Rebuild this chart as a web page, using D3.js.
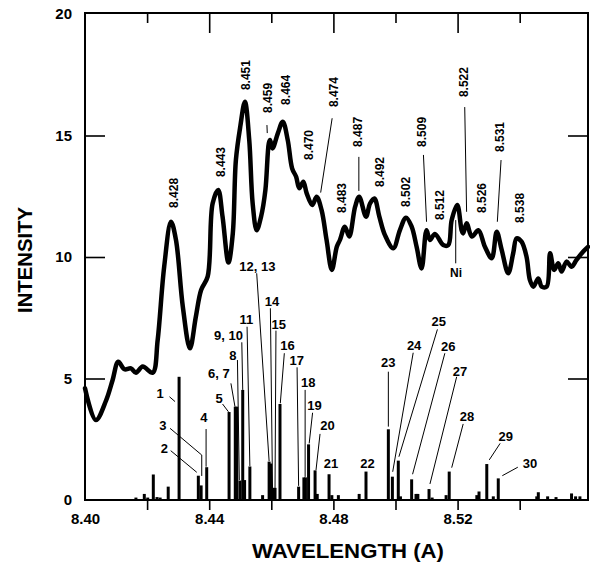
<!DOCTYPE html>
<html>
<head>
<meta charset="utf-8">
<script src="https://cdn.jsdelivr.net/npm/d3@7"></script>
<style>
  body { margin: 0; background: #fff; }
  svg { display: block; font-family: "Liberation Sans", Arial, sans-serif; font-weight: bold; }
</style>
</head>
<body>
<div id="chart"></div>
<script>
// measured scan: wavelength (A) and intensity
const scanWl = [8.4000, 8.4035, 8.4068, 8.4089, 8.4107, 8.4127, 8.4148, 8.4164, 8.4186, 8.4218,
  8.4234, 8.4255, 8.4277, 8.4293, 8.4315, 8.4338, 8.4357, 8.4374, 8.4395, 8.4411,
  8.4429, 8.4443, 8.4462, 8.4476, 8.4486, 8.4500, 8.4515, 8.4529, 8.4540, 8.4553,
  8.4567, 8.4581, 8.4592, 8.4596, 8.4604, 8.4621, 8.4637, 8.4653, 8.4667, 8.4680,
  8.4690, 8.4703, 8.4714, 8.4732, 8.4746, 8.4762, 8.4778, 8.4795, 8.4811, 8.4821,
  8.4837, 8.4851, 8.4870, 8.4883, 8.4905, 8.4918, 8.4932, 8.4948, 8.4966, 8.4993,
  8.5014, 8.5034, 8.5052, 8.5068, 8.5084, 8.5100, 8.5111, 8.5127, 8.5154, 8.5170,
  8.5181, 8.5199, 8.5213, 8.5218, 8.5229, 8.5246, 8.5267, 8.5288, 8.5310, 8.5326,
  8.5342, 8.5363, 8.5379, 8.5390, 8.5406, 8.5422, 8.5433, 8.5444, 8.5460, 8.5471,
  8.5487, 8.5498, 8.5511, 8.5524, 8.5535, 8.5551, 8.5567, 8.5583, 8.5604, 8.5620];
const scanI = [4.60, 3.29, 4.10, 4.94, 5.69, 5.38, 5.42, 5.24, 5.49, 5.24,
  6.58, 9.60, 11.45, 10.70, 7.96, 6.24, 7.54, 8.64, 9.19, 12.20,
  12.76, 11.66, 9.77, 10.97, 13.99, 15.36, 16.39, 14.81, 12.20, 11.10,
  11.66, 12.76, 14.68, 14.81, 14.47, 15.09, 15.57, 14.81, 13.65, 13.30,
  12.83, 13.10, 12.62, 12.14, 12.48, 11.93, 10.70, 9.47, 10.42, 10.70,
  11.25, 10.84, 12.07, 12.48, 11.66, 12.20, 12.41, 11.66, 10.90, 10.36,
  11.10, 11.62, 11.25, 10.42, 9.53, 11.10, 10.70, 10.95, 10.49, 10.49,
  11.52, 12.14, 11.10, 10.97, 11.39, 10.84, 11.10, 10.42, 9.95, 11.04,
  10.29, 9.33, 10.15, 10.77, 10.63, 10.01, 9.05, 8.78, 9.12, 8.78,
  8.78, 10.15, 9.47, 9.74, 9.40, 9.81, 9.60, 9.88, 10.22, 10.42];

// calculated lines: wavelength (A) and strength
const lineWl = [8.4164, 8.4191, 8.4202, 8.4220, 8.4232, 8.4242, 8.4268, 8.4303, 8.4365, 8.4374,
  8.4392, 8.4464, 8.4484, 8.4489, 8.4499, 8.4508, 8.4514, 8.4531, 8.4572, 8.4593,
  8.4598, 8.4605, 8.4612, 8.4628, 8.4688, 8.4705, 8.4710, 8.4720, 8.4741, 8.4748,
  8.4786, 8.4795, 8.4816, 8.4883, 8.4905, 8.4977, 8.4990, 8.5009, 8.5016, 8.5052,
  8.5066, 8.5072, 8.5108, 8.5118, 8.5163, 8.5173, 8.5262, 8.5269, 8.5294, 8.5315,
  8.5331, 8.5455, 8.5460, 8.5490, 8.5517, 8.5567, 8.5580, 8.5594];
const lineI = [0.10, 0.25, 0.10, 1.05, 0.12, 0.10, 0.55, 5.07, 1.00, 0.60,
  1.35, 3.62, 3.84, 3.84, 0.80, 4.53, 0.82, 1.38, 0.20, 1.58,
  1.50, 0.50, 0.50, 3.95, 0.55, 0.93, 0.93, 2.29, 1.22, 0.25,
  1.06, 0.20, 0.20, 0.25, 1.17, 2.91, 0.96, 1.62, 0.15, 0.85,
  0.25, 0.25, 0.45, 0.10, 0.20, 1.17, 0.20, 0.35, 1.48, 0.15,
  0.89, 0.15, 0.32, 0.15, 0.12, 0.27, 0.15, 0.15];

// peak wavelength labels (vertical text, foot at x,y) with optional leader
const peakLabels = [
  {t: "8.428", x: 8.4285, y: 12.02},
  {t: "8.443", x: 8.4438, y: 13.29},
  {t: "8.451", x: 8.4517, y: 16.87},
  {t: "8.459", x: 8.4589, y: 15.93, p: [[8.4586, 15.43], [8.4587, 15.10]]},
  {t: "8.464", x: 8.4647, y: 16.26},
  {t: "8.470", x: 8.4720, y: 13.99},
  {t: "8.474", x: 8.4802, y: 16.17, p: [[8.4796, 15.71], [8.4759, 12.65]]},
  {t: "8.483", x: 8.4828, y: 11.81},
  {t: "8.487", x: 8.4878, y: 14.53, p: [[8.4882, 14.12], [8.4882, 12.72]]},
  {t: "8.492", x: 8.4948, y: 12.88},
  {t: "8.502", x: 8.5032, y: 12.06},
  {t: "8.509", x: 8.5085, y: 14.53, p: [[8.5090, 14.20], [8.5100, 11.45]]},
  {t: "8.512", x: 8.5143, y: 11.52},
  {t: "8.522", x: 8.5221, y: 16.58, p: [[8.5223, 16.17], [8.5229, 11.86]]},
  {t: "8.526", x: 8.5277, y: 11.81},
  {t: "8.531", x: 8.5335, y: 14.32, p: [[8.5340, 13.99], [8.5328, 11.45]]},
  {t: "8.538", x: 8.5399, y: 11.40}
];
const niLabel = {t: "Ni", x: 8.5195, y: 9.35, p: [[8.5194, 11.52], [8.5194, 9.74]]};

// line numbers (text centre x,y) and leaders to the lines
const lineLabels = [
  {t: "1", x: 8.4242, y: 4.40, p: [[8.4272, 4.25], [8.4290, 4.05]]},
  {t: "2", x: 8.4256, y: 2.14, p: [[8.4276, 2.03], [8.4360, 1.14]]},
  {t: "3", x: 8.4251, y: 3.09, p: [[8.4274, 2.95], [8.4376, 1.85], [8.4376, 0.99]]},
  {t: "4", x: 8.4383, y: 3.42, p: [[8.4390, 2.92], [8.4390, 1.37]]},
  {t: "5", x: 8.4432, y: 4.20, p: [[8.4443, 3.95], [8.4462, 3.63]]},
  {t: "6, 7", x: 8.4431, y: 5.23, p: [[8.4470, 4.80], [8.4483, 3.84]]},
  {t: "8", x: 8.4476, y: 5.97, p: [[8.4491, 5.76], [8.4497, 0.82]]},
  {t: "9, 10", x: 8.4462, y: 6.78, p: [[8.4505, 6.49], [8.4508, 4.53]]},
  {t: "11", x: 8.4520, y: 7.44, p: [[8.4522, 7.13], [8.4531, 1.40]]},
  {t: "12, 13", x: 8.4555, y: 9.60, p: [[8.4553, 9.33], [8.4593, 1.60]]},
  {t: "14", x: 8.4602, y: 8.18, p: [[8.4597, 7.89], [8.4604, 0.49]]},
  {t: "15", x: 8.4624, y: 7.21, p: [[8.4615, 6.97], [8.4612, 0.49]]},
  {t: "16", x: 8.4652, y: 6.37, p: [[8.4642, 6.04], [8.4629, 3.98]]},
  {t: "17", x: 8.4682, y: 5.73, p: [[8.4683, 5.46], [8.4688, 0.58]]},
  {t: "18", x: 8.4719, y: 4.86, p: [[8.4709, 4.53], [8.4709, 0.95]]},
  {t: "19", x: 8.4739, y: 3.90, p: [[8.4733, 3.59], [8.4722, 2.33]]},
  {t: "20", x: 8.4781, y: 3.07, p: [[8.4757, 2.72], [8.4744, 1.23]]},
  {t: "21", x: 8.4792, y: 1.51},
  {t: "22", x: 8.4910, y: 1.53},
  {t: "23", x: 8.4977, y: 5.67, p: [[8.4977, 5.28], [8.4977, 3.02]]},
  {t: "24", x: 8.5060, y: 6.38, p: [[8.5057, 6.06], [8.4991, 1.16]]},
  {t: "25", x: 8.5139, y: 7.34, p: [[8.5135, 7.02], [8.5011, 1.78]]},
  {t: "26", x: 8.5170, y: 6.34, p: [[8.5159, 6.04], [8.5055, 1.06]]},
  {t: "27", x: 8.5208, y: 5.31, p: [[8.5197, 5.07], [8.5111, 0.66]]},
  {t: "28", x: 8.5230, y: 3.43, p: [[8.5218, 3.13], [8.5181, 1.33]]},
  {t: "29", x: 8.5355, y: 2.63, p: [[8.5337, 2.33], [8.5302, 1.65]]},
  {t: "30", x: 8.5433, y: 1.51, p: [[8.5394, 1.35], [8.5344, 1.00]]}
];

const xLabelTicks = [8.40, 8.44, 8.48, 8.52];
const xMinorTicks = [8.42, 8.46, 8.50, 8.54];
const yLabelTicks = [0, 5, 10, 15, 20];
const yInnerTicks = [5, 10, 15];

const width = 590, height = 565;
const plotL = 85, plotR = 588, plotT = 13, plotB = 500;

const x = d3.scaleLinear().domain([8.40, 8.562]).range([plotL, plotR]);
const y = d3.scaleLinear().domain([0, 20]).range([plotB, 14]);

const svg = d3.select("#chart").append("svg")
  .attr("width", width)
  .attr("height", height);

// frame
svg.append("rect")
  .attr("x", plotL).attr("y", plotT)
  .attr("width", plotR - plotL).attr("height", plotB - plotT)
  .attr("fill", "none").attr("stroke", "#000").attr("stroke-width", 2);

function styleAxis(g) {
  g.select(".domain").remove();
  g.selectAll(".tick line").attr("stroke", "#000").attr("stroke-width", 1.6);
  g.selectAll("text").attr("fill", "#000").attr("font-size", 15).attr("font-weight", "bold")
    .attr("font-family", "'Liberation Sans', Arial, sans-serif");
}

// bottom: short ticks pointing out, labels on the major values
svg.append("g")
  .attr("transform", `translate(0,${plotB})`)
  .call(d3.axisBottom(x).tickValues(xLabelTicks.concat(xMinorTicks)).tickSize(10).tickPadding(3)
    .tickFormat(d => xLabelTicks.includes(d) ? d3.format(".2f")(d) : ""))
  .call(styleAxis)
  .call(g => g.selectAll(".tick").filter(d => d === 8.40).select("line").remove());

// top: long ticks at majors, short at minors
svg.append("g")
  .attr("transform", `translate(0,${plotT})`)
  .call(d3.axisTop(x).tickValues(xLabelTicks.slice(1)).tickSize(-20).tickFormat(""))
  .call(styleAxis);
svg.append("g")
  .attr("transform", `translate(0,${plotT})`)
  .call(d3.axisTop(x).tickValues(xMinorTicks).tickSize(-10).tickFormat(""))
  .call(styleAxis);

// left: inward ticks, labels
svg.append("g")
  .attr("transform", `translate(${plotL},0)`)
  .call(d3.axisLeft(y).tickValues(yLabelTicks).tickSize(-20).tickPadding(13))
  .call(styleAxis)
  .call(g => g.selectAll(".tick").filter(d => !yInnerTicks.includes(d)).select("line").remove());

// right: inward ticks only
svg.append("g")
  .attr("transform", `translate(${plotR},0)`)
  .call(d3.axisRight(y).tickValues(yInnerTicks).tickSize(-20).tickFormat(""))
  .call(styleAxis);

// axis titles
svg.append("text")
  .attr("x", 348).attr("y", 558)
  .attr("text-anchor", "middle")
  .attr("font-size", 21)
  .attr("textLength", 192).attr("lengthAdjust", "spacingAndGlyphs")
  .text("WAVELENGTH (A)");

svg.append("text")
  .attr("transform", "translate(32,260) rotate(-90)")
  .attr("text-anchor", "middle")
  .attr("font-size", 21)
  .attr("textLength", 106).attr("lengthAdjust", "spacingAndGlyphs")
  .text("INTENSITY");

// stick spectrum
const lines = lineWl.map((w, i) => ({w, v: lineI[i]}));
svg.append("g").selectAll("line")
  .data(lines)
  .join("line")
  .attr("x1", d => x(d.w)).attr("x2", d => x(d.w))
  .attr("y1", y(0)).attr("y2", d => y(d.v))
  .attr("stroke", "#000").attr("stroke-width", 3);

// scan
const scan = scanWl.map((w, i) => [w, scanI[i]]);
svg.append("path")
  .datum(scan)
  .attr("fill", "none")
  .attr("stroke", "#000")
  .attr("stroke-width", 4.5)
  .attr("stroke-linejoin", "round")
  .attr("stroke-linecap", "round")
  .attr("d", d3.line().x(d => x(d[0])).y(d => y(d[1])).curve(d3.curveCatmullRom.alpha(0.5)));

// leaders
const leader = d3.line().x(d => x(d[0])).y(d => y(d[1]));
const leaders = peakLabels.concat([niLabel], lineLabels).filter(d => d.p);
svg.append("g").selectAll("path")
  .data(leaders)
  .join("path")
  .attr("d", d => leader(d.p))
  .attr("fill", "none")
  .attr("stroke", "#000")
  .attr("stroke-width", 1);

// peak labels, vertical
svg.append("g").selectAll("text")
  .data(peakLabels)
  .join("text")
  .attr("transform", d => `translate(${x(d.x)},${y(d.y)}) rotate(-90)`)
  .attr("dy", "0.36em")
  .attr("font-size", 12)
  .text(d => d.t);

svg.append("text")
  .attr("x", x(niLabel.x)).attr("y", y(niLabel.y))
  .attr("text-anchor", "middle")
  .attr("dy", "0.35em")
  .attr("font-size", 12)
  .text(niLabel.t);

// line numbers
svg.append("g").selectAll("text")
  .data(lineLabels)
  .join("text")
  .attr("x", d => x(d.x)).attr("y", d => y(d.y))
  .attr("text-anchor", "middle")
  .attr("dy", "0.36em")
  .attr("font-size", 13)
  .text(d => d.t);
</script>
</body>
</html>
